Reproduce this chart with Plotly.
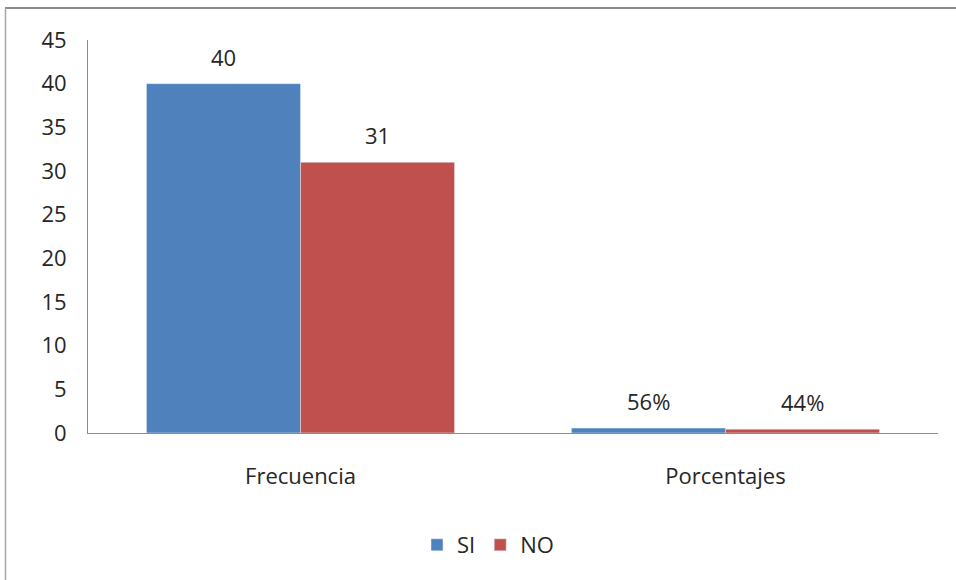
import plotly.graph_objects as go

categories = ["Frecuencia", "Porcentajes"]
si_values = [40, 0.56]
no_values = [31, 0.44]
si_labels = ["40", "56%"]
no_labels = ["31", "44%"]
y_ticks = [0, 5, 10, 15, 20, 25, 30, 35, 40, 45]

BLUE = "#4F81BD"
RED = "#C0504D"
FONT = "Open Sans, Liberation Sans, sans-serif"
TEXT = "#262626"
FS = 22

W, H = 956, 580
L, R, T, B = 88, 18, 40, 147
plot_w = W - L - R
plot_h = H - T - B
bargap = 0.275
bar_px = plot_w / len(categories) * (1 - bargap) / 2

fig = go.Figure()
fig.add_trace(go.Bar(name="SI", x=categories, y=si_values, marker_color=BLUE))
fig.add_trace(go.Bar(name="NO", x=categories, y=no_values, marker_color=RED))

annotations = []
for vals, labels, sign in ((si_values, si_labels, -1), (no_values, no_labels, 1)):
    for cat, v, lab in zip(categories, vals, labels):
        annotations.append(dict(
            x=cat, y=v, xref="x", yref="y", text=lab, showarrow=False,
            xshift=sign * bar_px / 2, yshift=27,
            font=dict(family=FONT, size=FS, color=TEXT),
        ))

# chart border (top and left edges)
px_to_paper_x = lambda px: (px - L) / plot_w
px_to_paper_y = lambda py: (H - B - py) / plot_h
shapes = [
    dict(type="line", xref="paper", yref="paper",
         x0=px_to_paper_x(5), x1=px_to_paper_x(W + 5),
         y0=px_to_paper_y(8), y1=px_to_paper_y(8),
         line=dict(color="#8c8c8c", width=2)),
    dict(type="line", xref="paper", yref="paper",
         x0=px_to_paper_x(5.5), x1=px_to_paper_x(5.5),
         y0=px_to_paper_y(8), y1=px_to_paper_y(H + 5),
         line=dict(color="#a6a6a6", width=1.5)),
]

fig.update_layout(
    width=W, height=H,
    margin=dict(l=L, r=R, t=T, b=B),
    paper_bgcolor="white", plot_bgcolor="white",
    barmode="group", bargap=bargap, bargroupgap=0,
    font=dict(family=FONT, size=FS, color=TEXT),
    showlegend=True,
    legend=dict(orientation="h", x=px_to_paper_x(488), xanchor="center",
                y=px_to_paper_y(545), yanchor="middle",
                font=dict(family=FONT, size=FS, color=TEXT),
                itemwidth=30, tracegroupgap=0),
    annotations=annotations,
    shapes=shapes,
)
fig.update_xaxes(showline=True, linecolor="#8c8c8c", linewidth=1,
                 ticks="", showgrid=False, tickfont=dict(size=FS),
                 ticklabelstandoff=24)
fig.update_yaxes(range=[0, 45], tickvals=y_ticks, showline=True,
                 linecolor="#8c8c8c", linewidth=1, ticks="", showgrid=False,
                 zeroline=False, tickfont=dict(size=FS), ticklabelstandoff=16)

fig.write_html("out.html")
